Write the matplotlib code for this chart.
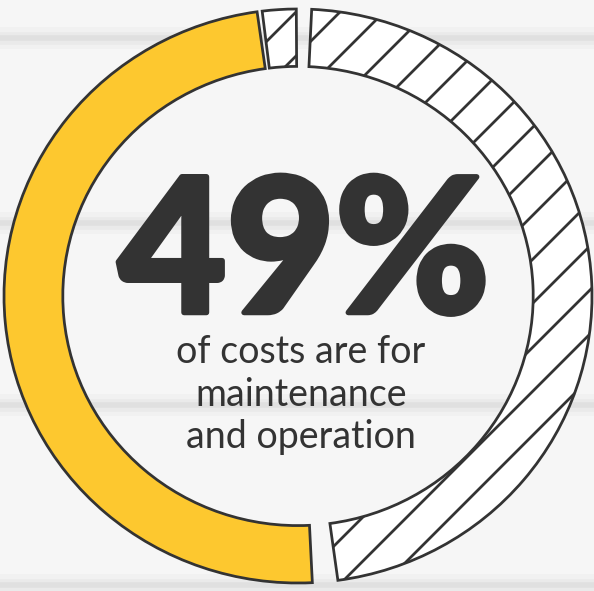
import numpy as np
import matplotlib
matplotlib.use("Agg")
import matplotlib.pyplot as plt
import matplotlib.patheffects as pe
from matplotlib.patches import Wedge

# data
segments = ["small other", "other costs", "maintenance and operation"]
shares = [1.9, 48.3, 49.8]
hatched = [True, True, False]
gaps = [3.0, 5.0, 1.0]   # degrees after each segment
headline = "49%"
subtitle = ["of costs are for", "maintenance", "and operation"]

# background mortar lines (pixels from top)
mortar_rows = [38, 223, 405, 585]

W, H, DPI = 594, 591, 132
plt.rcParams['hatch.linewidth'] = 1.5
plt.rcParams['hatch.color'] = '#333333'

fig = plt.figure(figsize=(W / DPI, H / DPI), dpi=DPI, facecolor='#f6f6f6')
ax = fig.add_axes([0, 0, 1, 1])
ax.set_facecolor('#f6f6f6')

# circle: centre (298, 296) px, radii 294 x 287 px
cx, cy, rx, ry = 298, 296, 294, 287
ax.set_xlim(-cx / rx, (W - cx) / rx)
ax.set_ylim(-(H - cy) / ry, cy / ry)
ax.axis('off')

for yy in mortar_rows:
    yd = cy / ry - yy / ry
    for lw, a in [(12, 0.04), (7, 0.06), (3, 0.10)]:
        ax.axhline(yd, color='#8a8a8a', lw=lw, alpha=a, zorder=0)

# ring segments, going clockwise from the top
usable = 360 - sum(gaps)
start = 97.0
for name, s, h, g in zip(segments, shares, hatched, gaps):
    span = s / sum(shares) * usable
    end = start - span
    if h:
        w = Wedge((0, 0), 1.0, end, start, width=0.2, facecolor='white',
                  edgecolor='#333333', hatch='/', lw=1.5, zorder=2)
    else:
        w = Wedge((0, 0), 1.0, end, start, width=0.2, facecolor='#fdc82f',
                  edgecolor='#333333', lw=1.5, zorder=2)
    ax.add_patch(w)
    start = end - g

ax.text(304 / rx - cx / rx, cy / ry - 258 / ry, headline, ha='center', va='center',
        fontsize=102, fontweight='black', family='Lato', color='#333333', zorder=3,
        path_effects=[pe.withStroke(linewidth=3, foreground='#333333')])

for i, line in enumerate(subtitle):
    ax.text(0.01, cy / ry - (363 + 42.5 * i) / ry, line, ha='center', va='baseline',
            fontsize=20.5, family='Lato', color='#333333', zorder=3)

fig.savefig('out.png', dpi=DPI, facecolor=fig.get_facecolor())
